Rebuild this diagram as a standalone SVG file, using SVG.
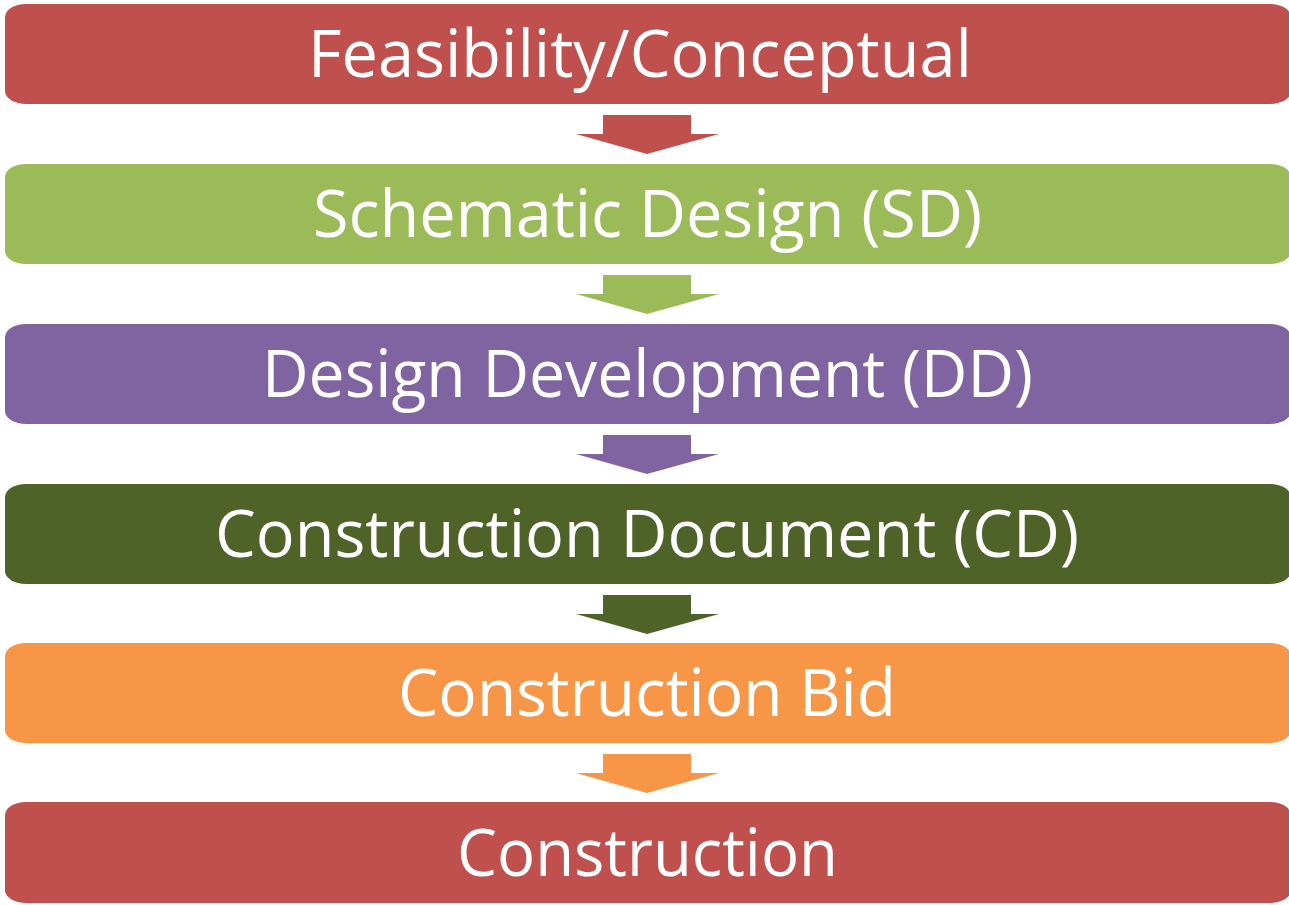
<svg xmlns="http://www.w3.org/2000/svg" width="1289" height="905" viewBox="0 0 1289 905">
<style>
.box{stroke:none}
.lbl{font-family:"Open Sans","Liberation Sans",sans-serif;font-size:66px;fill:#ffffff}
</style>
<rect width="1289" height="905" fill="#ffffff"/>
<g id="connectors">
<polygon points="603,115 691,115 691,134 719,134 647,154 576,134 603,134" fill="#C0504D"/>
<polygon points="603,275 691,275 691,294 719,294 647,314 576,294 603,294" fill="#9BBB59"/>
<polygon points="603,435 691,435 691,454 719,454 647,474 576,454 603,454" fill="#8064A2"/>
<polygon points="603,595 691,595 691,614 719,614 647,634 576,614 603,614" fill="#4F6228"/>
<polygon points="603,754 691,754 691,773 719,773 647,793 576,773 603,773" fill="#F79646"/>
</g>
<g id="n1"><rect class="box" x="5" y="4" width="1286" height="100" rx="21" ry="13" fill="#C0504D"/><text class="lbl" x="308" y="77" textLength="664" lengthAdjust="spacingAndGlyphs">Feasibility/Conceptual</text></g>
<g id="n2"><rect class="box" x="5" y="164" width="1286" height="100" rx="21" ry="13" fill="#9BBB59"/><text class="lbl" x="313" y="237" textLength="669" lengthAdjust="spacingAndGlyphs">Schematic Design (SD)</text></g>
<g id="n3"><rect class="box" x="5" y="324" width="1286" height="100" rx="21" ry="13" fill="#8064A2"/><text class="lbl" x="262" y="397" textLength="771" lengthAdjust="spacingAndGlyphs">Design Development (DD)</text></g>
<g id="n4"><rect class="box" x="5" y="484" width="1286" height="100" rx="21" ry="13" fill="#4F6228"/><text class="lbl" x="215" y="557" textLength="864" lengthAdjust="spacingAndGlyphs">Construction Document (CD)</text></g>
<g id="n5"><rect class="box" x="5" y="643" width="1286" height="100" rx="21" ry="13" fill="#F79646"/><text class="lbl" x="398" y="716" textLength="498" lengthAdjust="spacingAndGlyphs">Construction Bid</text></g>
<g id="n6"><rect class="box" x="5" y="802" width="1286" height="101" rx="21" ry="13" fill="#C0504D"/><text class="lbl" x="457" y="876" textLength="381" lengthAdjust="spacingAndGlyphs">Construction</text></g>
</svg>
